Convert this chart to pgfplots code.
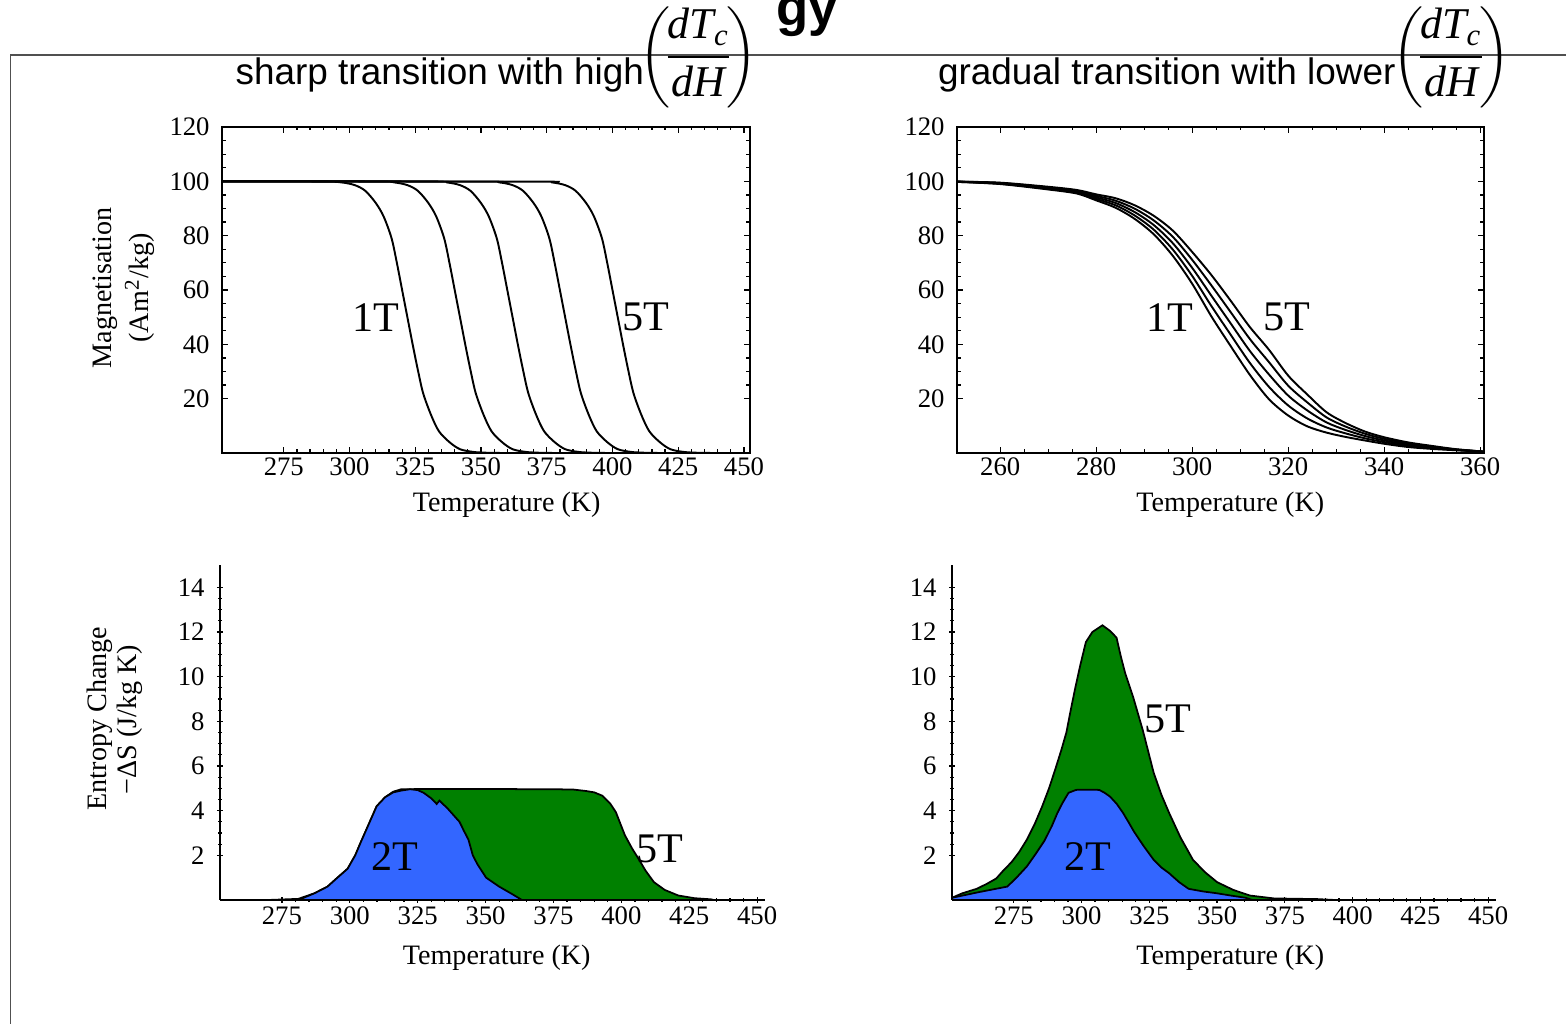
\documentclass[border=0pt]{standalone}
\usepackage{pgfplots}
\pgfplotsset{compat=1.18}
\usepackage{pgfplotstable}
\usepackage{amsmath}
\usepackage{fontspec}
\setmainfont{Liberation Serif}
\newfontfamily\arial{Liberation Sans}

\definecolor{fblue}{RGB}{51,102,255}
\definecolor{fgreen}{RGB}{0,128,0}
\definecolor{framegray}{RGB}{80,80,80}

% gradual transition, M(T) for 1T..5T
\pgfplotstableread{
T     m1    m2    m3    m4    m5
251   99.8  99.8  99.9  99.9  99.9
260   99.0  99.1  99.25 99.4  99.5
270   97.0  97.25 97.5  97.75 98.0
276   95.5  95.8  96.15 96.5  96.8
280   93.0  93.55 94.1  94.65 95.2
284   90.3  91.2  92.05 92.9  93.8
288   86.2  87.45 88.7  89.95 91.2
292   80.5  82.2  83.9  85.6  87.3
296   72.5  74.8  77.15 79.5  81.8
300   62.3  65.2  68.15 71.1  74.0
304   50.3  54.1  57.9  61.7  65.5
308   39.4  43.6  47.75 51.9  56.1
312   28.8  33.2  37.6  42.0  46.4
316   19.8  24.35 28.9  33.45 38.0
320   13.8  17.5  21.15 24.8  28.5
324   9.8   12.7  15.65 18.6  21.5
328   7.5   9.4   11.25 13.1  15.0
332   5.9   7.2   8.45  9.7   11.0
336   4.6   5.4   6.25  7.1   7.9
340   3.4   4.0   4.6   5.2   5.8
345   2.2   2.6   3.05  3.5   3.9
350   1.5   1.8   2.05  2.3   2.6
355   1.0   1.1   1.2   1.3   1.4
360.8 0.5   0.5   0.5   0.5   0.5
}\gradual

\pgfplotsset{
  every axis/.append style={
    scale only axis,
    axis line style={line width=0.45pt},
    tick style={black, line width=0.35pt},
    major tick length=0.06cm, minor tick length=0.035cm,
    tick align=inside,
    ticklabel style={font=\fontsize{7.6}{8}\selectfont},
    /pgf/number format/assume math mode=true,
  },
  mcurve/.style={black, line width=0.55pt, smooth, no marks},
}
\tikzset{lbl/.style={font=\fontsize{12}{14}\selectfont}}

\begin{document}
\begin{tikzpicture}
\path[use as bounding box] (0,0) rectangle (15.66cm,10.24cm);

% top left: sharp transition
\begin{axis}[at={(2.22cm,5.71cm)}, anchor=south west,
  width=5.28cm, height=3.26cm,
  xmin=251.5, xmax=452.3, ymin=0, ymax=120,
  xtick={275,300,...,450}, ytick={20,40,...,120},
  minor x tick num=4, minor y tick num=3,
  xticklabel style={yshift=0.08cm}]
\addplot[mcurve] coordinates {(251.5,100) (290,99.9) (297,99.6) (302,98.6) (306,96.5) (310,92) (313,87) (316,79) (318,70) (320,60) (322,50) (324,40) (326,30.5) (328,22) (331,14) (334,8) (338,4) (342,1.4) (347,0.4) (352,0.1) (358,0)};
\addplot[mcurve] coordinates {(251.5,100) (310,99.9) (317,99.6) (322,98.6) (326,96.5) (330,92) (333,87) (336,79) (338,70) (340,60) (342,50) (344,40) (346,30.5) (348,22) (351,14) (354,8) (358,4) (362,1.4) (367,0.4) (372,0.1) (378,0)};
\addplot[mcurve] coordinates {(251.5,100) (330,99.9) (337,99.6) (342,98.6) (346,96.5) (350,92) (353,87) (356,79) (358,70) (360,60) (362,50) (364,40) (366,30.5) (368,22) (371,14) (374,8) (378,4) (382,1.4) (387,0.4) (392,0.1) (398,0)};
\addplot[mcurve] coordinates {(251.5,100) (350,99.9) (357,99.6) (362,98.6) (366,96.5) (370,92) (373,87) (376,79) (378,70) (380,60) (382,50) (384,40) (386,30.5) (388,22) (391,14) (394,8) (398,4) (402,1.4) (407,0.4) (412,0.1) (418,0)};
\addplot[mcurve] coordinates {(251.5,100) (370,99.9) (377,99.6) (382,98.6) (386,96.5) (390,92) (393,87) (396,79) (398,70) (400,60) (402,50) (404,40) (406,30.5) (408,22) (411,14) (414,8) (418,4) (422,1.4) (427,0.4) (432,0.1) (438,0)};
\node[lbl] at (axis cs:309.9,50) {1T};
\node[lbl] at (axis cs:412.8,50) {5T};
\end{axis}

% top right: gradual transition
\begin{axis}[at={(9.57cm,5.71cm)}, anchor=south west,
  width=5.27cm, height=3.26cm,
  xmin=251, xmax=360.8, ymin=0, ymax=120,
  xtick={260,280,...,360}, ytick={20,40,...,120},
  minor x tick num=3, minor y tick num=3,
  xticklabel style={yshift=0.08cm}]
\addplot[mcurve] table[x=T,y=m1] {\gradual};
\addplot[mcurve] table[x=T,y=m2] {\gradual};
\addplot[mcurve] table[x=T,y=m3] {\gradual};
\addplot[mcurve] table[x=T,y=m4] {\gradual};
\addplot[mcurve] table[x=T,y=m5] {\gradual};
\node[lbl] at (axis cs:295.4,50) {1T};
\node[lbl] at (axis cs:319.8,50) {5T};
\end{axis}

% bottom left: entropy change, sharp
\begin{axis}[at={(2.20cm,1.24cm)}, anchor=south west,
  width=5.45cm, height=3.35cm,
  axis lines=left, axis line style={-, line width=0.45pt},
  xmin=252.2, xmax=452.9, ymin=0, ymax=15,
  xtick={275,300,...,450}, ytick={2,4,...,14},
  minor x tick num=4, minor y tick num=3,
  xticklabel style={yshift=0.09cm}]
\addplot[fill=fgreen, draw=black, line width=0.5pt] coordinates {(270,0) (281,0.05) (287,0.3) (291.8,0.6) (295,0.95) (299.2,1.4) (302,2.0) (304.1,2.6) (307,3.4) (309.9,4.2) (313,4.6) (316,4.85) (319,4.96) (330,4.97) (350,4.97) (370,4.96) (382,4.95) (387,4.88) (390,4.82) (393,4.67) (396,4.3) (398,3.93) (401.3,2.9) (404,2.3) (406.3,1.85) (409,1.3) (412,0.8) (416,0.45) (421,0.2) (427,0.08) (433,0.03) (434,0)} \closedcycle;
\addplot[fill=fblue, draw=black, line width=0.5pt] coordinates {(281,0) (287,0.3) (291.8,0.6) (295,0.95) (299.2,1.4) (302,2.0) (304.1,2.6) (307,3.4) (309.9,4.2) (313,4.6) (316,4.82) (319,4.9) (322.2,4.96) (325,4.92) (327.2,4.8) (330,4.55) (332,4.3) (333,4.45) (336,4.1) (340.4,3.5) (342,3.1) (343.7,2.7) (345.3,2.0) (347,1.6) (350.2,1.0) (355,0.6) (360,0.25) (363.4,0)} \closedcycle;
\node[lbl] at (axis cs:316.6,1.93) {2T};
\node[lbl] at (axis cs:414.3,2.28) {5T};
\end{axis}

% bottom right: entropy change, gradual
\begin{axis}[at={(9.52cm,1.24cm)}, anchor=south west,
  width=5.44cm, height=3.35cm,
  axis lines=left, axis line style={-, line width=0.45pt},
  xmin=252.2, xmax=452.9, ymin=0, ymax=15,
  xtick={275,300,...,450}, ytick={2,4,...,14},
  minor x tick num=4, minor y tick num=3,
  xticklabel style={yshift=0.09cm}]
\addplot[fill=fgreen, draw=black, line width=0.5pt] coordinates {(252.2,0.1) (256,0.3) (261.3,0.5) (265,0.72) (268.5,0.96) (271,1.3) (274.2,1.7) (277,2.15) (279.8,2.7) (282.7,3.4) (285.5,4.2) (288,5.0) (290.3,5.85) (292.5,6.7) (294.4,7.5) (296,8.5) (297.6,9.45) (299.5,10.5) (301.6,11.55) (304,12.0) (307.7,12.3) (310.5,12.05) (312.9,11.75) (314.5,10.9) (316.1,10.15) (319,9.1) (322.6,7.6) (326.6,5.7) (329.5,4.7) (332.3,3.9) (336.5,2.8) (341.1,1.8) (345.5,1.25) (350,0.8) (356,0.45) (362.1,0.2) (371,0.07) (387,0.04) (393.5,0)} \closedcycle;
\addplot[fill=fblue, draw=black, line width=0.5pt] coordinates {(252.2,0.1) (262,0.35) (272.6,0.6) (276,1.0) (279.8,1.5) (283,2.05) (286.3,2.65) (289,3.3) (291.1,3.9) (293,4.35) (295.2,4.8) (298,4.93) (300.8,4.94) (306.5,4.93) (308.5,4.8) (310.5,4.63) (313,4.3) (315.3,3.9) (317.5,3.45) (319.4,3.05) (323,2.4) (326.6,1.8) (329.5,1.45) (332.3,1.2) (336,0.8) (339.5,0.5) (345,0.38) (350,0.3) (355,0.2) (360.5,0.1) (363,0)} \closedcycle;
\node[lbl] at (axis cs:302.4,1.93) {2T};
\node[lbl] at (axis cs:332,8.1) {5T};
\end{axis}

% frame, titles and labels in pixel coordinates (y downwards)
\begin{scope}[x=0.01cm, y=-0.01cm, yshift=10.24cm]
\draw[framegray, line width=0.45pt] (10.5,1030) -- (10.5,55) -- (1570,55);
\node[anchor=base west, inner sep=0, font=\arial\bfseries\fontsize{15}{17}\selectfont] at (776,26) {gy};
\node[anchor=base east, inner sep=0, font=\arial\fontsize{10.5}{12}\selectfont] at (645,85) {sharp transition with high};
\node[inner sep=0, font=\fontsize{12.5}{14}\selectfont] at (699,57) {$\displaystyle\left(\!\frac{\textit{dT}_{\textit{c}}}{\textit{dH}}\!\right)$};
\node[anchor=base east, inner sep=0, font=\arial\fontsize{10.5}{12}\selectfont] at (1397,85) {gradual transition with lower};
\node[inner sep=0, font=\fontsize{12.5}{14}\selectfont] at (1452,57) {$\displaystyle\left(\!\frac{\textit{dT}_{\textit{c}}}{\textit{dH}}\!\right)$};
\begin{scope}[font=\fontsize{8}{9}\selectfont]
\node at (507,505) {Temperature (K)};
\node at (1231,505) {Temperature (K)};
\node at (497,958) {Temperature (K)};
\node at (1231,958) {Temperature (K)};
\node[rotate=90] at (105,288) {Magnetisation};
\node[rotate=90] at (140,288) {(Am\textsuperscript{2}/kg)};
\node[rotate=90] at (100,719) {Entropy Change};
\node[rotate=90] at (130,720) {−ΔS (J/kg K)};
\end{scope}
\end{scope}
\end{tikzpicture}
\end{document}
